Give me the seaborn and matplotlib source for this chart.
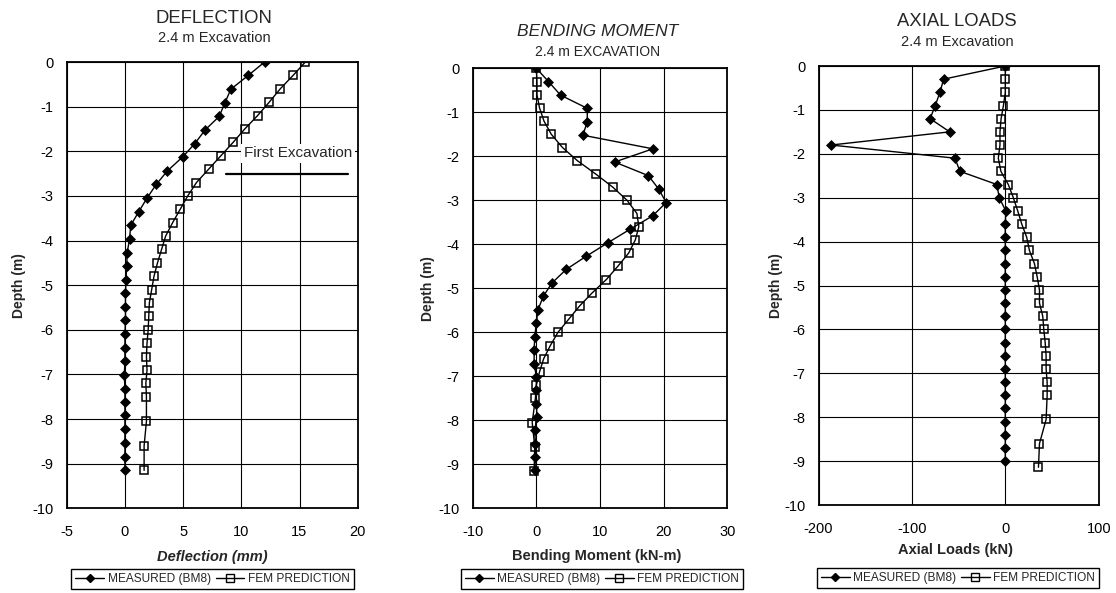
import numpy as np
import pandas as pd
import matplotlib
matplotlib.use("Agg")
import matplotlib.pyplot as plt
from matplotlib.lines import Line2D
import seaborn as sns

# ---------------- data ----------------
# Deflection (mm)
defl_meas_depth = [0, -0.3, -0.61, -0.91, -1.22, -1.52, -1.83, -2.13, -2.44, -2.74, -3.05,
                   -3.35, -3.66, -3.96, -4.27, -4.57, -4.88, -5.18, -5.49, -5.79, -6.1,
                   -6.4, -6.71, -7.01, -7.32, -7.62, -7.92, -8.23, -8.53, -8.84, -9.14]
defl_meas = [12.0, 10.6, 9.1, 8.6, 8.1, 6.9, 6.0, 4.95, 3.65, 2.7, 1.9, 1.2, 0.5, 0.4, 0.2,
             0.15, 0.1, 0.05, 0.05, 0.05, 0.0, 0.0, 0.0, -0.05, 0.0, 0.0, 0.0, 0.0, 0.0, 0.0, 0.0]
defl_fem_depth = [0, -0.3, -0.6, -0.9, -1.2, -1.5, -1.8, -2.1, -2.4, -2.7, -3.0, -3.3, -3.6,
                  -3.9, -4.2, -4.5, -4.8, -5.1, -5.4, -5.7, -6.0, -6.3, -6.6, -6.9, -7.2, -7.5,
                  -8.05, -8.6, -9.15]
defl_fem = [15.5, 14.45, 13.35, 12.4, 11.4, 10.3, 9.3, 8.25, 7.2, 6.15, 5.4, 4.75, 4.1, 3.5,
            3.15, 2.8, 2.5, 2.3, 2.1, 2.05, 2.0, 1.9, 1.85, 1.9, 1.8, 1.85, 1.85, 1.65, 1.65]

# Bending moment (kN-m)
bm_meas_depth = defl_meas_depth
bm_meas = [0.0, 1.9, 3.8, 8.0, 8.0, 7.3, 18.3, 12.3, 17.6, 19.2, 20.4, 18.3, 14.7, 11.3, 7.85,
           4.7, 2.45, 1.1, 0.25, 0.0, -0.25, -0.35, -0.35, 0.0, 0.0, 0.0, 0.1, -0.25, -0.15,
           -0.15, -0.25]
bm_fem_depth = defl_fem_depth
bm_fem = [0.0, 0.1, 0.1, 0.5, 1.2, 2.35, 4.1, 6.45, 9.3, 12.0, 14.25, 15.8, 16.1, 15.55, 14.5,
          12.8, 11.0, 8.8, 6.8, 5.1, 3.4, 2.2, 1.15, 0.5, 0.0, -0.15, -0.65, -0.25, -0.35]

# Axial loads (kN)
ax_meas_depth = [0, -0.3, -0.6, -0.9, -1.2, -1.5, -1.8, -2.1, -2.4, -2.7, -3.0, -3.3, -3.6,
                 -3.9, -4.2, -4.5, -4.8, -5.1, -5.4, -5.7, -6.0, -6.3, -6.6, -6.9, -7.2, -7.5,
                 -7.8, -8.1, -8.4, -8.7, -9.0]
ax_meas = [0, -66, -70, -75, -80.5, -59.5, -186.5, -54, -48.5, -9, -6.5, 0.5, 0, 0, 0, 0, 0,
           0, 0, 0, 0, 0, 0, 0, 0, 0, 0, 0, 0, 0, 0]
ax_fem_depth = [0, -0.3, -0.6, -0.9, -1.2, -1.5, -1.8, -2.1, -2.4, -2.7, -3.0, -3.3, -3.6,
                -3.9, -4.2, -4.5, -4.8, -5.1, -5.4, -5.7, -6.0, -6.3, -6.6, -6.9, -7.2, -7.5,
                -8.05, -8.6, -9.14]
ax_fem = [0, 0, 0, -2, -4.5, -5.7, -5.7, -7.5, -4.7, 3.2, 8.6, 13.3, 17.6, 22.9, 25.8, 31.2,
          34.1, 36.6, 36.6, 40.1, 41.2, 42.7, 43.7, 43.7, 44.8, 44.8, 43.7, 36.6, 35.5]

series_labels = ["MEASURED (BM8)", "FEM PREDICTION"]
titles = ["DEFLECTION", "BENDING MOMENT", "AXIAL LOADS"]
subtitles = ["2.4 m Excavation", "2.4 m EXCAVATION", "2.4 m Excavation"]
xlabels = ["Deflection (mm)", "Bending Moment (kN-m)", "Axial Loads (kN)"]
ylabel = "Depth (m)"
xticks_list = [[-5, 0, 5, 10, 15, 20], [-10, 0, 10, 20, 30], [-200, -100, 0, 100]]
yticks = [0, -1, -2, -3, -4, -5, -6, -7, -8, -9, -10]
annot_text = "First Excavation"
annot_x = 10.2
annot_y = -2.05
exc_line_x = [8.7, 19.2]
exc_line_y = [-2.5, -2.5]

# ---------------- style ----------------
sns.set_style("white")
plt.rcParams["font.family"] = ["Liberation Sans", "DejaVu Sans"]
plt.rcParams["axes.linewidth"] = 1.3

W, H = 1116, 593
fig = plt.figure(figsize=(W / 100, H / 100), dpi=100)

def frac(l, t, r, b):
    return [l / W, 1 - b / H, (r - l) / W, (b - t) / H]

axes_px = [(66.7, 62, 357.7, 508.3), (472.7, 68.3, 727.3, 508.3), (818.5, 66, 1098.7, 505)]
ylabel_px = [26, 435, 783]
title_px = [(214, 18.5, 37.5), (598, 31.5, 52), (957, 21.5, 42)]
xlabel_px = [(212, 557.5), (597, 556), (955, 550)]
legend_px = [(212.5, 579), (602, 579), (958, 578)]

datasets = [
    (defl_meas, defl_meas_depth, defl_fem, defl_fem_depth),
    (bm_meas, bm_meas_depth, bm_fem, bm_fem_depth),
    (ax_meas, ax_meas_depth, ax_fem, ax_fem_depth),
]

legend_family = "Liberation Sans"
legend_size = 8.6

for i, (mx, my, fx, fy) in enumerate(datasets):
    ax = fig.add_axes(frac(*axes_px[i]))
    dm = pd.DataFrame({"x": mx, "depth": my})
    df = pd.DataFrame({"x": fx, "depth": fy})
    sns.lineplot(data=dm, x="x", y="depth", ax=ax, sort=False, estimator=None,
                 color="black", lw=1.0, marker="D", markersize=4.6,
                 markerfacecolor="black", markeredgecolor="black", markeredgewidth=0.5,
                 zorder=4)
    sns.lineplot(data=df, x="x", y="depth", ax=ax, sort=False, estimator=None,
                 color="black", lw=1.0, marker="s", markersize=5.6,
                 markerfacecolor="none", markeredgecolor="black", markeredgewidth=1.1,
                 zorder=3)
    xt = xticks_list[i]
    ax.set_xlim(xt[0], xt[-1])
    ax.set_ylim(-10, 0)
    ax.set_xticks(xt)
    ax.set_yticks(yticks)
    ax.set_xticklabels([str(v) for v in xt])
    ax.set_yticklabels([str(v) for v in yticks])
    ax.grid(True, color="black", lw=0.8)
    ax.set_axisbelow(True)
    for s in ax.spines.values():
        s.set_color("black")
        s.set_linewidth(1.3)
    ax.tick_params(axis="both", direction="out", length=3, width=1, color="black",
                   labelsize=10.5, labelcolor="black")
    ax.tick_params(axis="x", pad=9)
    ax.tick_params(axis="y", pad=6.5)
    ax.set_xlabel("")
    ax.set_ylabel(ylabel, fontsize=10, fontweight="bold")
    ax.yaxis.set_label_coords((ylabel_px[i] - axes_px[i][0]) / (axes_px[i][2] - axes_px[i][0]), 0.5)
    if ax.get_legend() is not None:
        ax.get_legend().remove()

    # titles and x labels
    tx, ty1, ty2 = title_px[i]
    fig.text(tx / W, 1 - ty1 / H, titles[i], ha="center", va="center",
             fontsize=12.5 if i == 1 else 13.3, style="italic" if i == 1 else "normal")
    fig.text(tx / W, 1 - ty2 / H, subtitles[i], ha="center", va="center",
             fontsize=10 if i == 1 else 10.5)
    lx, ly = xlabel_px[i]
    fig.text(lx / W, 1 - ly / H, xlabels[i], ha="center", va="center",
             fontsize=10.5, fontweight="bold", style="italic" if i == 0 else "normal")

    # legend
    handles = [
        Line2D([], [], color="black", lw=1.0, marker="D", markersize=4.2,
               markerfacecolor="black", markeredgecolor="black"),
        Line2D([], [], color="black", lw=1.0, marker="s", markersize=5.4,
               markerfacecolor="none", markeredgecolor="black"),
    ]
    gx, gy = legend_px[i]
    leg = ax.legend(handles, series_labels, ncol=2, loc="center",
                    bbox_to_anchor=(gx / W, 1 - gy / H), bbox_transform=fig.transFigure,
                    frameon=True, fancybox=False, edgecolor="black", framealpha=1,
                    handlelength=2.4, handletextpad=0.3, columnspacing=0.4,
                    borderpad=0.35, borderaxespad=0,
                    prop={"family": legend_family, "size": legend_size})
    leg.get_frame().set_linewidth(1.0)

    if i == 0:
        ax.text(annot_x, annot_y, annot_text, fontsize=11, ha="left", va="center",
                bbox=dict(facecolor="white", edgecolor="none", pad=2), zorder=5)
        ax.plot(exc_line_x, exc_line_y, color="black", lw=1.6, zorder=5)

fig.savefig("out.png", dpi=100)
